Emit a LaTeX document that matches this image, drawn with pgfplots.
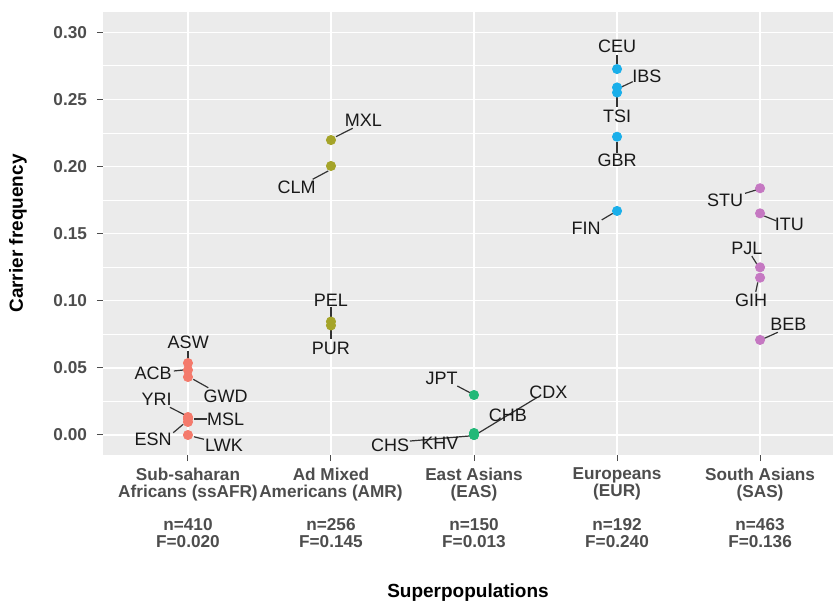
\documentclass[border=0pt]{standalone}
\usepackage{fontspec}
\setmainfont{Liberation Sans}
\usepackage{pgfplots}
\pgfplotsset{compat=1.18}
\definecolor{panel}{HTML}{EBEBEB}
\definecolor{tickgray}{HTML}{4D4D4D}
\definecolor{cAFR}{HTML}{F47A6C}
\definecolor{cAMR}{HTML}{A5A429}
\definecolor{cEAS}{HTML}{22B878}
\definecolor{cEUR}{HTML}{1AAFEA}
\definecolor{cSAS}{HTML}{C578C2}
\definecolor{seg}{HTML}{333333}
\tikzset{
  lab/.style={font=\fontsize{9}{10}\selectfont, text=black!90, inner sep=0pt},
  sg/.style={draw=seg, line width=0.6pt},
}
\pgfplotsset{pt/.style={only marks, mark=*, mark size=2.3pt, color=#1, mark options={draw=#1, fill=#1}}}
\begin{document}
\begin{tikzpicture}
\begin{axis}[
  scale only axis, width=365pt, height=221.5pt,
  xmin=0.406, xmax=5.51, ymin=-0.0149, ymax=0.3151,
  axis background/.style={fill=panel},
  axis line style={draw=none},
  clip=false,
  xtick={1,2,3,4,5},
  xticklabels={
    {Sub-saharan\\Africans (ssAFR)\\[8.4pt]n=410\\F=0.020},
    {Ad Mixed\\Americans (AMR)\\[8.4pt]n=256\\F=0.145},
    {East Asians\\(EAS)\\[8.4pt]n=150\\F=0.013},
    {Europeans\\(EUR)\\[8.4pt]n=192\\F=0.240},
    {South Asians\\(SAS)\\[8.4pt]n=463\\F=0.136}},
  ytick={0,0.05,0.1,0.15,0.2,0.25,0.3},
  minor ytick={0.025,0.075,0.125,0.175,0.225,0.275},
  xmajorgrids, ymajorgrids, yminorgrids,
  major grid style={white, line width=0.7pt},
  minor grid style={white, line width=0.4pt},
  tick align=outside, tick pos=left,
  major tick length=3pt, minor tick length=0pt,
  every tick/.style={tickgray, line width=0.5pt},
  scaled y ticks=false,
  /pgf/number format/assume math mode=true,
  yticklabel style={font=\bfseries\fontsize{8.6}{10}\selectfont, text=tickgray, xshift=-1.5pt,
    /pgf/number format/fixed, /pgf/number format/fixed zerofill, /pgf/number format/precision=2},
  xticklabel style={align=center, font=\bfseries\fontsize{8.6}{8.4}\selectfont, text=tickgray, anchor=north},
  every axis x label/.style={at={(axis description cs:0.5,-0.3115)}, anchor=center},
  every axis y label/.style={at={(axis description cs:-0.1164,0.5)}, anchor=center, rotate=90},
  xlabel={Superpopulations},
  ylabel={Carrier frequency},
  label style={font=\bfseries\fontsize{9.5}{11}\selectfont, text=black},
]
% leader segments
\draw[sg] (axis cs:1.0,0.0628) -- (axis cs:1.0,0.0546);
\draw[sg] (axis cs:0.902,0.0477) -- (axis cs:0.967,0.0484);
\draw[sg] (axis cs:1.037,0.0415) -- (axis cs:1.142,0.0352);
\draw[sg] (axis cs:0.874,0.0206) -- (axis cs:0.979,0.0149);
\draw[sg] (axis cs:1.042,0.0119) -- (axis cs:1.131,0.0119);
\draw[sg] (axis cs:0.897,0.0017) -- (axis cs:0.967,0.0080);
\draw[sg] (axis cs:1.042,-0.0013) -- (axis cs:1.112,-0.0032);
\draw[sg] (axis cs:2.035,0.2222) -- (axis cs:2.152,0.2285);
\draw[sg] (axis cs:1.872,0.1905) -- (axis cs:1.981,0.1967);
\draw[sg] (axis cs:2.0,0.0956) -- (axis cs:2.0,0.0877);
\draw[sg] (axis cs:2.0,0.0782) -- (axis cs:2.0,0.0713);
\draw[sg] (axis cs:2.883,0.0365) -- (axis cs:2.972,0.0315);
\draw[sg] (axis cs:3.019,0.0007) -- (axis cs:3.439,0.0278);
\draw[sg] (axis cs:2.552,-0.0045) -- (axis cs:2.972,-0.0007);
\draw[sg] (axis cs:4.0,0.2831) -- (axis cs:4.0,0.2761);
\draw[sg] (axis cs:4.026,0.2590) -- (axis cs:4.110,0.2632);
\draw[sg] (axis cs:4.0,0.2520) -- (axis cs:4.0,0.2441);
\draw[sg] (axis cs:4.0,0.2185) -- (axis cs:4.0,0.2103);
\draw[sg] (axis cs:3.970,0.1651) -- (axis cs:3.893,0.1602);
\draw[sg] (axis cs:4.895,0.1800) -- (axis cs:4.972,0.1825);
\draw[sg] (axis cs:5.030,0.1631) -- (axis cs:5.112,0.1596);
\draw[sg] (axis cs:4.942,0.1333) -- (axis cs:4.977,0.1274);
\draw[sg] (axis cs:4.984,0.1137) -- (axis cs:4.970,0.1067);
\draw[sg] (axis cs:5.030,0.0720) -- (axis cs:5.124,0.0765);
% points
\addplot[pt=cAFR]
  coordinates {(1,0.0536)(1,0.0484)(1,0.0432)(1,0.0134)(1,0.0119)(1,0.0097)(1,0.0)};
\addplot[pt=cAMR]
  coordinates {(2,0.2197)(2,0.2004)(2,0.0845)(2,0.0816)};
\addplot[pt=cEAS]
  coordinates {(3,0.0298)(3,0.0015)(3,0.0010)(3,0.0)(3,0.0)};
\addplot[pt=cEUR]
  coordinates {(4,0.2726)(4,0.2589)(4,0.2551)(4,0.2222)(4,0.1669)};
\addplot[pt=cSAS]
  coordinates {(5,0.1838)(5,0.1651)(5,0.1249)(5,0.1172)(5,0.0708)};
% labels
\node[lab] at (axis cs:1.002,0.0688) {ASW};
\node[lab] at (axis cs:0.757,0.0460) {ACB};
\node[lab] at (axis cs:1.264,0.0291) {GWD};
\node[lab] at (axis cs:0.781,0.0266) {YRI};
\node[lab] at (axis cs:1.264,0.0117) {MSL};
\node[lab] at (axis cs:0.757,-0.0030) {ESN};
\node[lab] at (axis cs:1.252,-0.0074) {LWK};
\node[lab] at (axis cs:2.226,0.2341) {MXL};
\node[lab] at (axis cs:1.760,0.1845) {CLM};
\node[lab] at (axis cs:2.0,0.1006) {PEL};
\node[lab] at (axis cs:2.0,0.0646) {PUR};
\node[lab] at (axis cs:2.774,0.0422) {JPT};
\node[lab] at (axis cs:3.520,0.0315) {CDX};
\node[lab] at (axis cs:3.236,0.0149) {CHB};
\node[lab] at (axis cs:2.413,-0.0074) {CHS};
\node[lab] at (axis cs:2.762,-0.0062) {KHV};
\node[lab] at (axis cs:4.0,0.2893) {CEU};
\node[lab] at (axis cs:4.208,0.2669) {IBS};
\node[lab] at (axis cs:4.0,0.2376) {TSI};
\node[lab] at (axis cs:4.0,0.2049) {GBR};
\node[lab] at (axis cs:3.783,0.1542) {FIN};
\node[lab] at (axis cs:4.755,0.1745) {STU};
\node[lab] at (axis cs:5.205,0.1572) {ITU};
\node[lab] at (axis cs:4.907,0.1391) {PJL};
\node[lab] at (axis cs:4.937,0.1001) {GIH};
\node[lab] at (axis cs:5.198,0.0827) {BEB};
\end{axis}
\pgfresetboundingbox
\path[use as bounding box] ([xshift=-51.5pt,yshift=-74pt]current axis.south west) rectangle ([yshift=6pt]current axis.north east);
\end{tikzpicture}
\end{document}
